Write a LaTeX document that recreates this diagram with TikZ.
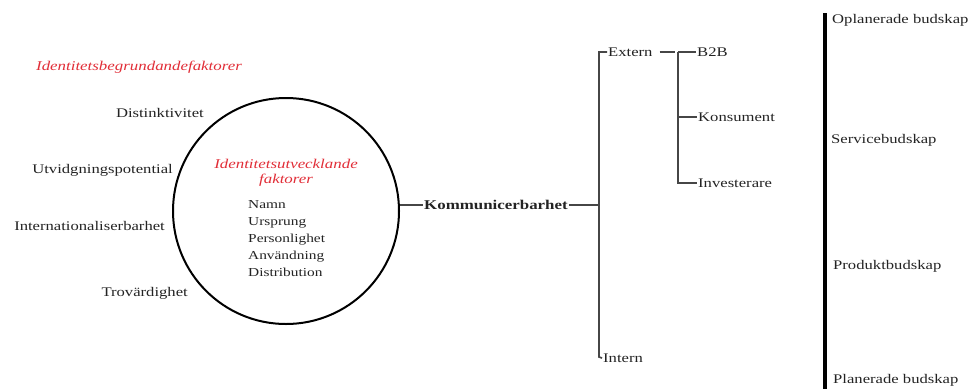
\documentclass[tikz,border=0pt]{standalone}
\usepackage{fontspec}
\setmainfont{Liberation Serif}[FakeStretch=1.26]
\definecolor{redtxt}{RGB}{225,45,55}
\definecolor{txt}{RGB}{35,35,35}
\definecolor{treeline}{RGB}{70,70,70}
\begin{document}
\begin{tikzpicture}[x=1pt,y=-1pt,
  lbl/.style={inner sep=1pt, text=txt, font=\fontsize{13.2}{15}\selectfont},
  redlbl/.style={inner sep=1pt, text=redtxt, font=\fontsize{13.4}{15}\selectfont\itshape},
  listlbl/.style={inner sep=1pt, text=txt, font=\fontsize{12.2}{17}\selectfont, align=left},
  tree/.style={draw=treeline, line width=1.7pt},
]
\useasboundingbox (0,0) rectangle (979,389);

% left labels
\node[redlbl] (begr) at (139,67) {Identitetsbegrundandefaktorer};
\node[lbl, anchor=east] (dist) at (205,113) {Distinktivitet};
\node[lbl, anchor=east] (utv) at (174,170) {Utvidgningspotential};
\node[lbl, anchor=east] (intl) at (166,226) {Internationaliserbarhet};
\node[lbl, anchor=east] (trov) at (189,293) {Trovärdighet};

% circle
\node[circle, draw=black, line width=2pt, minimum size=226pt, inner sep=0pt] (circ) at (286,211) {};
\node[redlbl, align=center] (utvf) at (286,173) {Identitetsutvecklande\\faktorer};
\node[listlbl, anchor=north west] (list) at (247,199) {Namn\\Ursprung\\Personlighet\\Användning\\Distribution};

% Kommunicerbarhet
\node[lbl, anchor=west, font=\fontsize{13.4}{15}\selectfont\bfseries] (komm) at (423,205) {Kommunicerbarhet};
\draw[tree] (komm.west -| circ.east) -- (komm.west);

% tree
\coordinate (tmid) at (599,205);
\coordinate (ttop) at (599,52);
\coordinate (tbot) at (599,357);
\node[lbl, anchor=west] (extern) at (607,52) {Extern};
\node[lbl, anchor=west] (intern) at (602,358) {Intern};
\node[lbl, anchor=west] (b2b) at (696,52) {B2B};
\node[lbl, anchor=west] (kons) at (697,117) {Konsument};
\node[lbl, anchor=west] (inv) at (697,183) {Investerare};
\coordinate (stop) at (678,52);
\coordinate (sbot) at (678,183);
\coordinate (dashend) at (675,52);

\draw[tree] (komm.east) -- (tmid);
\draw[tree] (extern.west) -- (ttop) -- (tbot) -- (intern.west);
\draw[tree] ([xshift=6pt]extern.east) -- (dashend);
\draw[tree] (stop) -- (b2b.west);
\draw[tree] (stop) -- (sbot) -- (inv.west);
\draw[tree] (kons.west -| stop) -- (kons.west);

% right scale
\coordinate (rtop) at (825,13);
\coordinate (rbot) at (825,389);
\draw[black, line width=3.5pt] (rtop) -- (rbot);
\node[lbl, anchor=west] (oplan) at (831,20) {Oplanerade budskap};
\node[lbl, anchor=west] (serv) at (830,140) {Servicebudskap};
\node[lbl, anchor=west] (prod) at (832,266) {Produktbudskap};
\node[lbl, anchor=west] (plan) at (832,380) {Planerade budskap};
\end{tikzpicture}
\end{document}
